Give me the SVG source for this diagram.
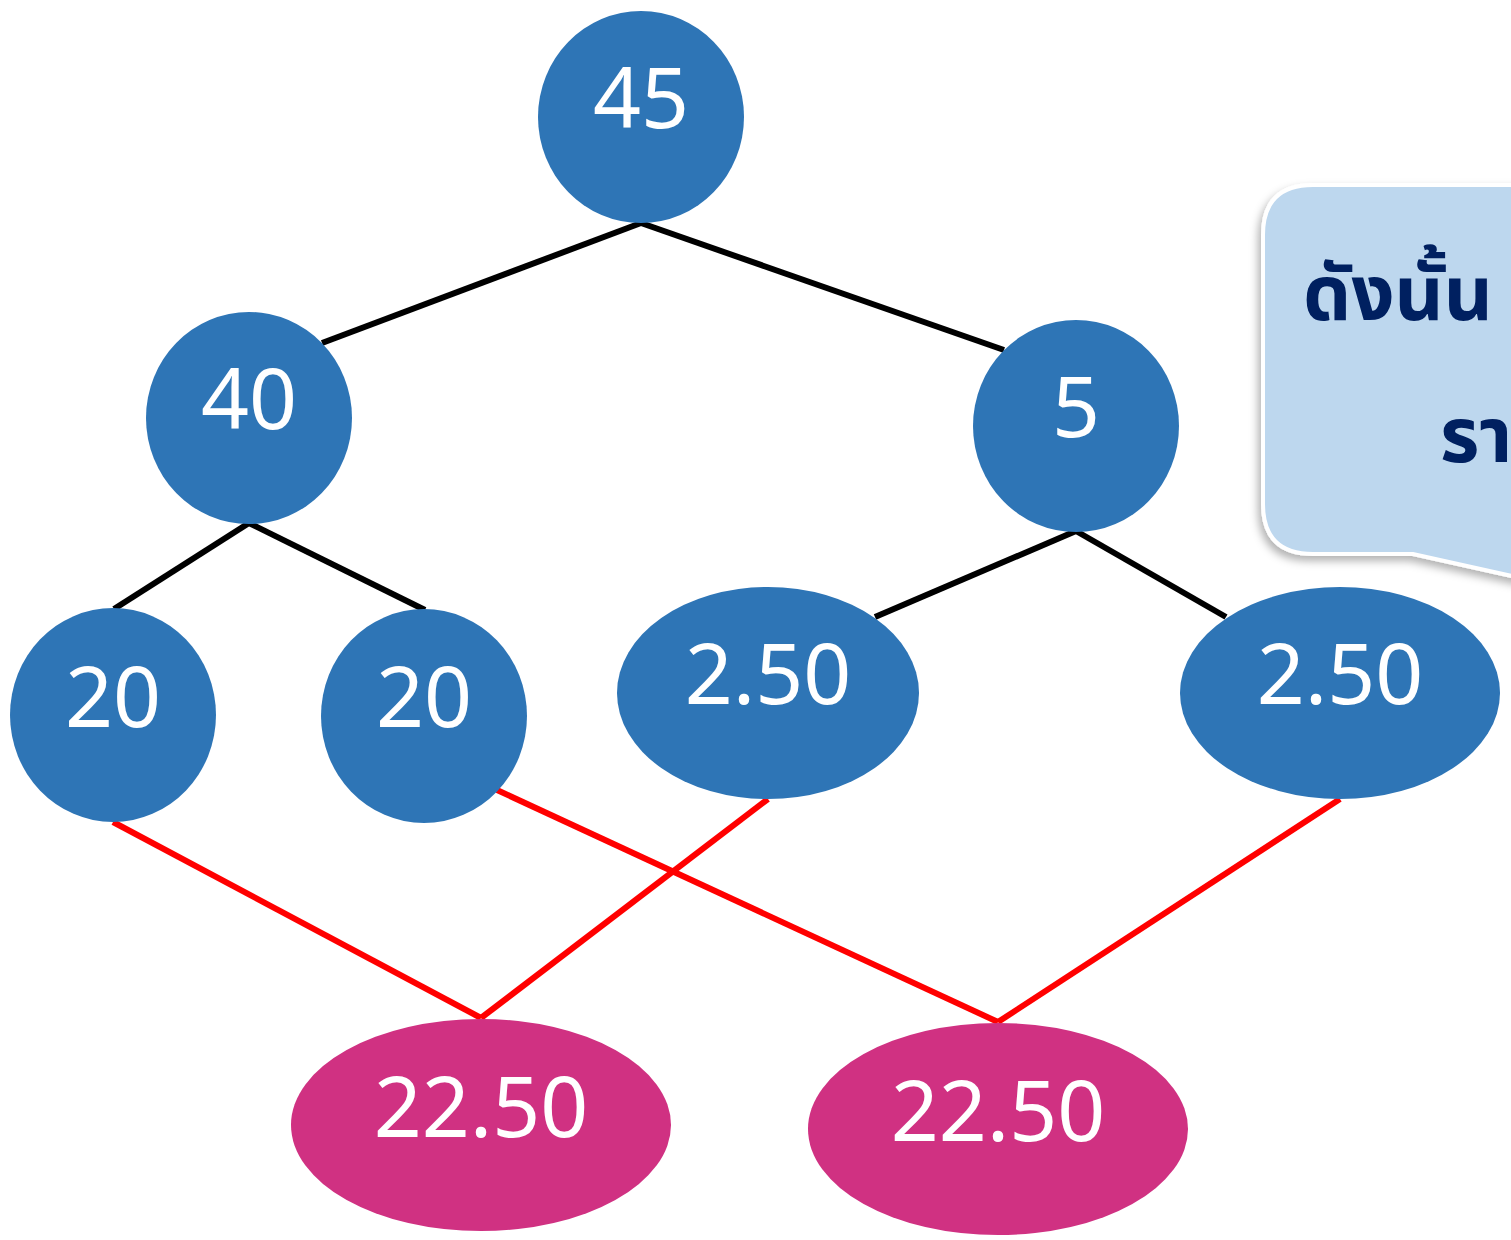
<svg xmlns="http://www.w3.org/2000/svg" width="1511" height="1240" viewBox="0 0 1511 1240">
<defs>
<style>
.blue{fill:#2E75B6}
.pink{fill:#D03182}
.lbl{fill:#FFFFFF;font-family:"Noto Sans","Open Sans","DejaVu Sans",sans-serif;font-size:84px;text-anchor:middle}
.blk{stroke:#000000;stroke-width:6;fill:none}
.red{stroke:#FF0000;stroke-width:6;fill:none}
.th{fill:#002060;font-family:"Noto Sans Thai","Noto Sans","DejaVu Sans",sans-serif;font-size:76px;font-weight:bold}
</style>
<filter id="sh" x="-20%" y="-20%" width="140%" height="140%">
<feDropShadow dx="-3" dy="5" stdDeviation="4" flood-color="#000000" flood-opacity="0.3"/>
</filter>
</defs>
<rect width="1511" height="1240" fill="#FFFFFF"/>
<g id="callout">
<path d="M1313,185 H1530 V580 L1413,554 H1313 Q1263,554 1263,504 V235 Q1263,185 1313,185 Z" fill="#BDD7EE" stroke="#FFFFFF" stroke-width="4" filter="url(#sh)"/>
<text class="th" x="1303" y="320">ดังนั้น</text>
<text class="th" x="1440" y="462">รา</text>
</g>
<g id="connectors">
<line class="blk" x1="641" y1="223" x2="322" y2="343"/>
<line class="blk" x1="641" y1="223" x2="1004" y2="350"/>
<line class="blk" x1="249" y1="523" x2="114" y2="609"/>
<line class="blk" x1="249" y1="523" x2="425" y2="610"/>
<line class="blk" x1="1076" y1="531" x2="875" y2="617"/>
<line class="blk" x1="1076" y1="531" x2="1226" y2="617"/>
<line class="red" x1="113" y1="822" x2="481" y2="1018"/>
<line class="red" x1="768" y1="799" x2="481" y2="1018"/>
<line class="red" x1="497" y1="790" x2="998" y2="1022"/>
<line class="red" x1="1340" y1="799" x2="998" y2="1022"/>
</g>
<g id="n45"><ellipse class="blue" cx="641" cy="117" rx="103" ry="106"/><text class="lbl" x="641" y="128">45</text></g>
<g id="n40"><ellipse class="blue" cx="249" cy="418" rx="103" ry="106"/><text class="lbl" x="249" y="429">40</text></g>
<g id="n5"><ellipse class="blue" cx="1076" cy="426" rx="103" ry="106"/><text class="lbl" x="1076" y="437">5</text></g>
<g id="n20a"><ellipse class="blue" cx="113" cy="715" rx="103" ry="107"/><text class="lbl" x="113" y="727">20</text></g>
<g id="n20b"><ellipse class="blue" cx="424" cy="716" rx="103" ry="107"/><text class="lbl" x="424" y="727">20</text></g>
<g id="n250a"><ellipse class="blue" cx="768" cy="693" rx="151" ry="106"/><text class="lbl" x="768" y="704">2.50</text></g>
<g id="n250b"><ellipse class="blue" cx="1340" cy="693" rx="160" ry="106"/><text class="lbl" x="1340" y="704">2.50</text></g>
<g id="n2250a"><ellipse class="pink" cx="481" cy="1125" rx="190" ry="106"/><text class="lbl" x="481" y="1137">22.50</text></g>
<g id="n2250b"><ellipse class="pink" cx="998" cy="1129" rx="190" ry="106"/><text class="lbl" x="998" y="1141">22.50</text></g>
</svg>
